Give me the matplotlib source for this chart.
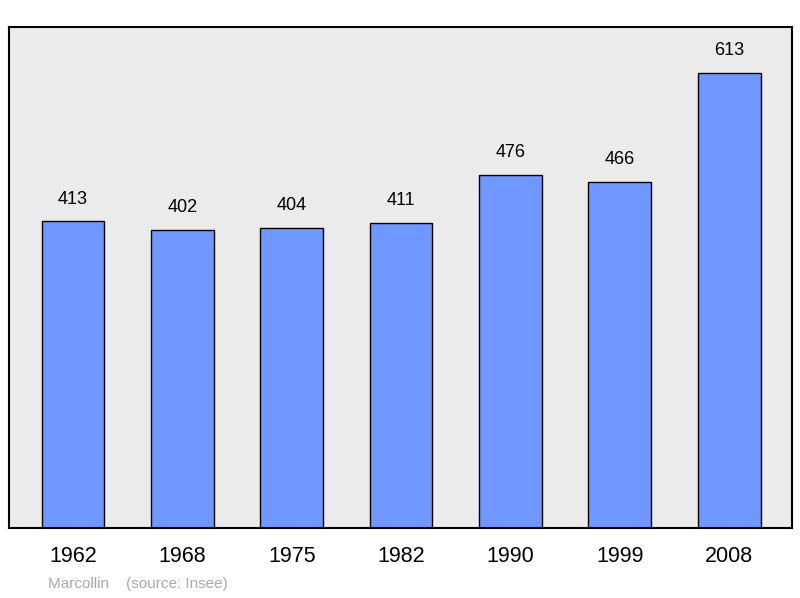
import matplotlib
matplotlib.use("Agg")
import matplotlib.pyplot as plt

years = ["1962", "1968", "1975", "1982", "1990", "1999", "2008"]
population = [413, 402, 404, 411, 476, 466, 613]

plt.rcParams["font.family"] = ["Liberation Sans", "DejaVu Sans"]

fig = plt.figure(figsize=(8.0, 5.98), dpi=100)
ax = fig.add_axes([9 / 800, 1 - 528 / 598, 783 / 800, 501 / 598])
ax.set_facecolor("#EBEBEB")

xs = range(len(years))
ax.bar(xs, population, width=0.575, color="#7096FF", edgecolor="black", linewidth=1.0)

for x, v in zip(xs, population):
    ax.annotate(str(v), xy=(x, v), xytext=(0, 10), textcoords="offset points",
                ha="center", va="bottom", fontsize=13)

ax.set_xlim(-0.585, 6.575)
ax.set_ylim(0, 675)
ax.set_yticks([])
ax.set_xticks(list(xs))
ax.set_xticklabels(years, fontsize=15.5)
ax.tick_params(axis="x", length=0, pad=13)
for s in ax.spines.values():
    s.set_linewidth(1.5)

fig.text(48 / 800, 1 - 584 / 598, "Marcollin    (source: Insee)", color="#AAAAAA",
         fontsize=11, va="center", ha="left")

fig.savefig("out.png", dpi=100, facecolor="white")
